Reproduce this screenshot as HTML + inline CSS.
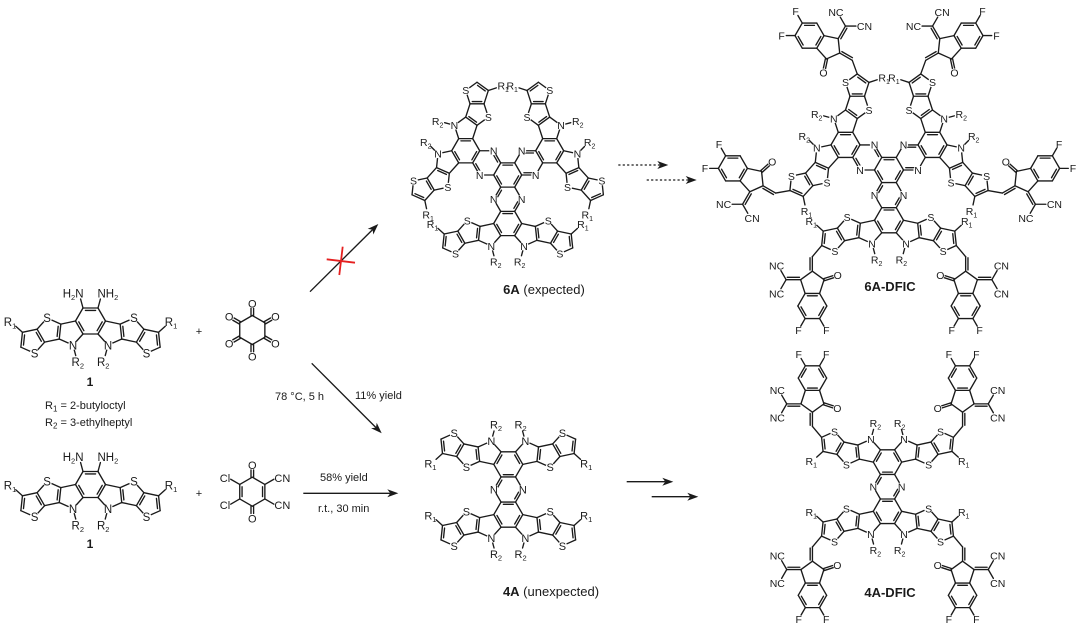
<!DOCTYPE html>
<html><head><meta charset="utf-8"><title>scheme</title>
<style>
html,body{margin:0;padding:0;background:#fff;width:1080px;height:630px;overflow:hidden}
svg{display:block;font-family:"Liberation Sans",Arial,sans-serif;fill:#1a1a1a}
#bonds line{stroke:#1a1a1a;stroke-width:1.35;stroke-linecap:round}
</style></head><body>
<svg id="s" xmlns="http://www.w3.org/2000/svg" width="1080" height="630" viewBox="0 0 1080 630">
<rect width="1080" height="630" fill="#fff"/>
<g id="bonds"></g>
<g id="masks" fill="#fff"></g>

<g stroke="#1a1a1a" stroke-width="1.35" fill="none">
<line x1="310" y1="291.7" x2="372.6" y2="229.6"/>
<line x1="311.7" y1="363.3" x2="376" y2="427.6"/>
<line x1="303.3" y1="493.3" x2="390.3" y2="493.3"/>
<line x1="618.3" y1="165" x2="660.3" y2="165" stroke-dasharray="2.2 2.2"/>
<line x1="646.7" y1="180" x2="688.7" y2="180" stroke-dasharray="2.2 2.2"/>
<line x1="626.7" y1="481.7" x2="665.3" y2="481.7"/>
<line x1="651.7" y1="496.7" x2="690.3" y2="496.7"/>
</g>
<g fill="#1a1a1a">
<polygon points="378.3,224 373.3,234.5 372.6,229.6 367.7,228.9"/>
<polygon points="381.7,433.3 371.1,428.3 376,427.6 376.7,422.7"/>
<polygon points="398.3,493.3 387.3,489.3 390.3,493.3 387.3,497.3"/>
<polygon points="668.3,165 657.3,161 660.3,165 657.3,169"/>
<polygon points="696.7,180 685.7,176 688.7,180 685.7,184"/>
<polygon points="673.3,481.7 662.3,477.7 665.3,481.7 662.3,485.7"/>
<polygon points="698.3,496.7 687.3,492.7 690.3,496.7 687.3,500.7"/>
</g>
<g stroke="#e52020" stroke-width="1.8">
<line x1="326.7" y1="259.3" x2="355" y2="262.7"/>
<line x1="342.7" y1="246.7" x2="339.3" y2="275"/>
</g>

<g font-size="11">
<text x="199" y="335" text-anchor="middle">+</text>
<text x="199" y="497" text-anchor="middle">+</text>
<text x="90" y="386" text-anchor="middle" font-weight="bold" font-size="12">1</text>
<text x="90" y="548" text-anchor="middle" font-weight="bold" font-size="12">1</text>
<text x="45" y="409">R<tspan dy="2.5" font-size="8">1</tspan><tspan dy="-2.5"> = 2-butyloctyl</tspan></text>
<text x="45" y="426">R<tspan dy="2.5" font-size="8">2</tspan><tspan dy="-2.5"> = 3-ethylheptyl</tspan></text>
<text x="275" y="400">78 °C, 5 h</text>
<text x="355" y="399">11% yield</text>
<text x="320" y="481">58% yield</text>
<text x="318" y="512">r.t., 30 min</text>
</g>
<g font-size="13">
<text x="544" y="294" text-anchor="middle"><tspan font-weight="bold">6A</tspan> (expected)</text>
<text x="551" y="596" text-anchor="middle"><tspan font-weight="bold">4A</tspan> (unexpected)</text>
<text x="890" y="291" text-anchor="middle" font-weight="bold">6A-DFIC</text>
<text x="890" y="597" text-anchor="middle" font-weight="bold">4A-DFIC</text>
</g>

<g id="hexk" font-size="11"><text>O</text><text>O</text><text>O</text><text>O</text><text>O</text><text>O</text></g>
<g id="ddq" font-size="11"><text>O</text><text>CN</text><text>CN</text><text>O</text><text>Cl</text><text>Cl</text></g>

<g id="u1a" font-size="11.5">
<text>N</text><text>S</text><text>S</text><text>R<tspan dy="2.5" font-size="7.5">2</tspan></text><text>R<tspan dy="2.5" font-size="7.5">1</tspan></text><text>H<tspan dy="2.5" font-size="7.5">2</tspan><tspan dy="-2.5">N</tspan></text>
<text>N</text><text>S</text><text>S</text><text>R<tspan dy="2.5" font-size="7.5">2</tspan></text><text>R<tspan dy="2.5" font-size="7.5">1</tspan></text><text>NH<tspan dy="2.5" font-size="7.5">2</tspan></text>
</g>
<g id="u1b" font-size="11.5">
<text>N</text><text>S</text><text>S</text><text>R<tspan dy="2.5" font-size="7.5">2</tspan></text><text>R<tspan dy="2.5" font-size="7.5">1</tspan></text><text>H<tspan dy="2.5" font-size="7.5">2</tspan><tspan dy="-2.5">N</tspan></text>
<text>N</text><text>S</text><text>S</text><text>R<tspan dy="2.5" font-size="7.5">2</tspan></text><text>R<tspan dy="2.5" font-size="7.5">1</tspan></text><text>NH<tspan dy="2.5" font-size="7.5">2</tspan></text>
</g>

<g id="u4b" font-size="11">
<text>N</text><text>S</text><text>S</text><text>R<tspan dy="2.5" font-size="7.5">2</tspan></text><text>R<tspan dy="2.5" font-size="7.5">1</tspan></text><text>N</text>
<text>N</text><text>S</text><text>S</text><text>R<tspan dy="2.5" font-size="7.5">2</tspan></text><text>R<tspan dy="2.5" font-size="7.5">1</tspan></text><text>N</text>
</g>
<g id="u4t" font-size="11">
<text>N</text><text>S</text><text>S</text><text>R<tspan dy="2.5" font-size="7.5">2</tspan></text><text>R<tspan dy="2.5" font-size="7.5">1</tspan></text>
<text>N</text><text>S</text><text>S</text><text>R<tspan dy="2.5" font-size="7.5">2</tspan></text><text>R<tspan dy="2.5" font-size="7.5">1</tspan></text>
</g>

<g id="u6_0" font-size="10.5">
<text>N</text><text>S</text><text>S</text><text>R<tspan dy="2.5" font-size="7">2</tspan></text><text>R<tspan dy="2.5" font-size="7">1</tspan></text><text>N</text>
<text>N</text><text>S</text><text>S</text><text>R<tspan dy="2.5" font-size="7">2</tspan></text><text>R<tspan dy="2.5" font-size="7">1</tspan></text><text>N</text>
</g>
<g id="u6_1" font-size="10.5">
<text>N</text><text>S</text><text>S</text><text>R<tspan dy="2.5" font-size="7">2</tspan></text><text>R<tspan dy="2.5" font-size="7">1</tspan></text><text>N</text>
<text>N</text><text>S</text><text>S</text><text>R<tspan dy="2.5" font-size="7">2</tspan></text><text>R<tspan dy="2.5" font-size="7">1</tspan></text><text>N</text>
</g>
<g id="u6_2" font-size="10.5">
<text>N</text><text>S</text><text>S</text><text>R<tspan dy="2.5" font-size="7">2</tspan></text><text>R<tspan dy="2.5" font-size="7">1</tspan></text><text>N</text>
<text>N</text><text>S</text><text>S</text><text>R<tspan dy="2.5" font-size="7">2</tspan></text><text>R<tspan dy="2.5" font-size="7">1</tspan></text><text>N</text>
</g>

<g id="ud4b" font-size="10.5">
<text>N</text><text>S</text><text>S</text><text>R<tspan dy="2.5" font-size="7">2</tspan></text><text>R<tspan dy="2.5" font-size="7">1</tspan></text><text>N</text><text>O</text><text>NC</text><text>NC</text><text>F</text><text>F</text>
<text>N</text><text>S</text><text>S</text><text>R<tspan dy="2.5" font-size="7">2</tspan></text><text>R<tspan dy="2.5" font-size="7">1</tspan></text><text>N</text><text>O</text><text>CN</text><text>CN</text><text>F</text><text>F</text>
</g>
<g id="ud4t" font-size="10.5">
<text>N</text><text>S</text><text>S</text><text>R<tspan dy="2.5" font-size="7">2</tspan></text><text>R<tspan dy="2.5" font-size="7">1</tspan></text><text>O</text><text>CN</text><text>CN</text><text>F</text><text>F</text>
<text>N</text><text>S</text><text>S</text><text>R<tspan dy="2.5" font-size="7">2</tspan></text><text>R<tspan dy="2.5" font-size="7">1</tspan></text><text>O</text><text>NC</text><text>NC</text><text>F</text><text>F</text>
</g>

<g id="ud6_0" font-size="10.5">
<text>N</text><text>S</text><text>S</text><text>R<tspan dy="2.5" font-size="7">2</tspan></text><text>R<tspan dy="2.5" font-size="7">1</tspan></text><text>N</text><text>O</text><text>NC</text><text>NC</text><text>F</text><text>F</text>
<text>N</text><text>S</text><text>S</text><text>R<tspan dy="2.5" font-size="7">2</tspan></text><text>R<tspan dy="2.5" font-size="7">1</tspan></text><text>N</text><text>O</text><text>CN</text><text>CN</text><text>F</text><text>F</text>
</g>
<g id="ud6_1" font-size="10.5">
<text>N</text><text>S</text><text>S</text><text>R<tspan dy="2.5" font-size="7">2</tspan></text><text>R<tspan dy="2.5" font-size="7">1</tspan></text><text>N</text><text>O</text><text>CN</text><text>NC</text><text>F</text><text>F</text>
<text>N</text><text>S</text><text>S</text><text>R<tspan dy="2.5" font-size="7">2</tspan></text><text>R<tspan dy="2.5" font-size="7">1</tspan></text><text>N</text><text>O</text><text>CN</text><text>NC</text><text>F</text><text>F</text>
</g>
<g id="ud6_2" font-size="10.5">
<text>N</text><text>S</text><text>S</text><text>R<tspan dy="2.5" font-size="7">2</tspan></text><text>R<tspan dy="2.5" font-size="7">1</tspan></text><text>N</text><text>O</text><text>NC</text><text>CN</text><text>F</text><text>F</text>
<text>N</text><text>S</text><text>S</text><text>R<tspan dy="2.5" font-size="7">2</tspan></text><text>R<tspan dy="2.5" font-size="7">1</tspan></text><text>N</text><text>O</text><text>NC</text><text>CN</text><text>F</text><text>F</text>
</g>
</svg>
<script>
(function(){
var NS='http://www.w3.org/2000/svg';
var BG=document.getElementById('bonds'),MG=document.getElementById('masks');
function add(a,b){return[a[0]+b[0],a[1]+b[1]];}
function sub(a,b){return[a[0]-b[0],a[1]-b[1]];}
function mul(a,k){return[a[0]*k,a[1]*k];}
function nrm(a){var l=Math.hypot(a[0],a[1]);return[a[0]/l,a[1]/l];}
function ln(a,b){var e=document.createElementNS(NS,'line');e.setAttribute('x1',a[0].toFixed(2));e.setAttribute('y1',a[1].toFixed(2));e.setAttribute('x2',b[0].toFixed(2));e.setAttribute('y2',b[1].toFixed(2));BG.appendChild(e);}
function mask(p,r){var e=document.createElementNS(NS,'circle');e.setAttribute('cx',p[0].toFixed(2));e.setAttribute('cy',p[1].toFixed(2));e.setAttribute('r',r.toFixed(2));MG.appendChild(e);}
function offLine(a,b,c,off,fr){var d=sub(b,a),len=Math.hypot(d[0],d[1]),u=mul(d,1/len);var n=[-u[1],u[0]];var m=mul(add(a,b),.5);if((c[0]-m[0])*n[0]+(c[1]-m[1])*n[1]<0)n=mul(n,-1);var s=len*fr;ln(add(add(a,mul(u,s)),mul(n,off)),add(sub(b,mul(u,s)),mul(n,off)));}
function inner(a,b,c,off){offLine(a,b,c,off,.16);}
function parTo(a,b,c,off){offLine(a,b,c,off,.08);}
function sym(a,b,g){var u=nrm(sub(b,a)),n=[-u[1]*g/2,u[0]*g/2];ln(add(a,n),add(b,n));ln(sub(a,n),sub(b,n));}
function place(el,p,an,fs){el.setAttribute('x',p[0].toFixed(1));el.setAttribute('y',(p[1]+.36*fs).toFixed(1));el.setAttribute('text-anchor',an);}
function lab(a,d,s0,s1,el,fs){var e=add(a,mul(d,s1));ln(add(a,mul(d,s0)),e);var w=el.getComputedTextLength();place(el,[e[0]+d[0]*(w/2+1.5),e[1]+d[1]*(fs*.45+1.5)],'middle',fs);}
var Bz=[[1,0],[.5,.866],[-.5,.866],[-1,0],[-.5,-.866],[.5,-.866]];

function unit(id,cx,cy,L,thd,o){
  var g=document.getElementById(id);var T=g.querySelectorAll('text');var k=0;
  var fs=parseFloat(g.getAttribute('font-size'));
  var th=thd*Math.PI/180,c=Math.cos(th),s=Math.sin(th);
  function G(p){return[cx+L*(p[0]*c-p[1]*s),cy+L*(p[0]*s+p[1]*c)];}
  function Rd(d){return[d[0]*c-d[1]*s,d[0]*s+d[1]*c];}
  var off=.16*L,mr=.32*L;
  for(var i=0;i<6;i++)ln(G(Bz[i]),G(Bz[(i+1)%6]));
  inner(G(Bz[4]),G(Bz[5]),G([0,0]),off);
  [1,-1].forEach(function(sd){
    function P(p){return G([p[0]*sd,p[1]]);}
    function D(d){var n=nrm(d);return Rd([n[0]*sd,n[1]]);}
    function b(a,q){ln(P(a),P(q));}
    var N=[-1.169,1.609],Cb=[-1.978,.208],Ca=[-2.083,1.202],S1=[-2.891,-.199],X=[-3.56,.544],Y=[-3.06,1.41],Z=[-4.538,.752],W=[-4.643,1.746],V=[-3.729,2.153];
    var th1=[-2.714,.633],th2=[-3.906,1.321];
    b([-1,0],Cb);b(Cb,Ca);b(Ca,N);b(N,[-.5,.866]);b(Cb,S1);b(S1,X);b(X,Y);b(Y,Ca);b(X,Z);b(Z,W);b(W,V);b(V,Y);
    inner(P([-1,0]),P([-.5,.866]),G([0,0]),off);
    inner(P(Cb),P(Ca),P(th1),off);
    inner(P(X),P(Y),P(th2),off);
    inner(P(Z),P(W),P(th2),off);
    [N,S1,V].forEach(function(a){var q=P(a);mask(q,mr);place(T[k++],q,'middle',fs);});
    lab(P(N),D([.26,.97]),.32*L,.72*L,T[k++],fs);
    lab(P(Z),D([-.743,-.669]),0,.6*L,T[k++],fs);
    if(o.nh2){
      var a=P([-.5,-.866]),d=D([-.26,-.97]);
      ln(a,add(a,mul(d,.62*L)));
      var np=add(a,mul(d,L));
      place(T[k++],[np[0]+(sd>0?.38*fs:-.38*fs),np[1]],sd>0?'end':'start',fs);
    }
    if(o.pyr){
      var PN=[-1,-1.732],PC=[-.5,-2.598];
      b([-.5,-.866],PN);b(PN,PC);
      if(sd>0)inner(P(PN),P(PC),G([0,-1.732]),off);else inner(P([-.5,-.866]),P(PN),G([0,-1.732]),off);
      var q=P(PN);mask(q,mr);place(T[k++],q,'middle',fs);
    }
    if(o.ic){
      var C2=[-5.286,3.512],CH=[-5.286,2.512];
      function A(v){return[C2[0]+v[0],C2[1]+v[1]];}
      var C1=A([-.809,.588]),C3=A([.809,.588]),C3a=A([.5,1.539]),C7a=A([-.5,1.539]),C4=A([1,2.405]),C5=A([.5,3.271]),C6=A([-.5,3.271]),C7=A([-1,2.405]),bcn=A([0,2.405]),Cx=A([-1.809,.588]);
      b(W,CH);b(CH,C2);parTo(P(CH),P(C2),P(Cx),off);
      b(C2,C1);b(C2,C3);b(C3,C3a);b(C3a,C7a);b(C7a,C1);
      b(C3a,C4);b(C4,C5);b(C5,C6);b(C6,C7);b(C7,C7a);
      inner(P(C4),P(C5),P(bcn),off);inner(P(C6),P(C7),P(bcn),off);inner(P(C7a),P(C3a),P(bcn),off);
      b(C1,Cx);parTo(P(C1),P(Cx),P(C2),off);
      var dO=D([.951,-.309]),c3=P(C3),oe=add(c3,mul(dO,.68*L));
      sym(c3,oe,off*.95);
      var oc=add(oe,mul(dO,.42*fs));mask(oc,.3*L);place(T[k++],oc,'middle',fs);
      var cxp=P(Cx);
      [[-.5,-.866],[-.5,.866]].forEach(function(dv){
        var d=D(dv),e=add(cxp,mul(d,.72*L));ln(cxp,e);
        var el=T[k++],w=el.getComputedTextLength();
        place(el,[e[0]+d[0]*(w/2+1),e[1]+d[1]*(fs*.45+1)],'middle',fs);
      });
      [[C5,[.5,.866]],[C6,[-.5,.866]]].forEach(function(pr){
        var a=P(pr[0]),d=D(pr[1]),e=add(a,mul(d,.6*L));ln(a,e);
        place(T[k++],add(e,mul(d,.45*fs)),'middle',fs);
      });
    }
  });
}
function core(cx,cy,L){
  function G(p){return[cx+L*p[0],cy+L*p[1]];}
  for(var i=0;i<6;i++)ln(G(Bz[i]),G(Bz[(i+1)%6]));
  inner(G(Bz[0]),G(Bz[1]),[cx,cy],.16*L);
  inner(G(Bz[2]),G(Bz[3]),[cx,cy],.16*L);
  inner(G(Bz[4]),G(Bz[5]),[cx,cy],.16*L);
}
function tri(prefix,cx,cy,L,o){
  core(cx,cy,L);
  [0,120,240].forEach(function(t,i){
    var th=t*Math.PI/180,d=3.464*L;
    unit(prefix+i,cx-d*Math.sin(th),cy+d*Math.cos(th),L,t,o);
  });
}
function small(id,cx,cy,R,subs,dbl){
  var g=document.getElementById(id),T=g.querySelectorAll('text'),k=0,fs=parseFloat(g.getAttribute('font-size'));
  var ang=[-90,-30,30,90,150,210].map(function(a){return a*Math.PI/180;});
  var V=ang.map(function(a){return[cx+R*Math.cos(a),cy+R*Math.sin(a)];});
  for(var i=0;i<6;i++)ln(V[i],V[(i+1)%6]);
  dbl.forEach(function(p){inner(V[p[0]],V[p[1]],[cx,cy],.16*R);});
  subs.forEach(function(t,i){
    var d=[Math.cos(ang[i]),Math.sin(ang[i])],v=V[i];
    if(t==='O'){var e=add(v,mul(d,.5*R));sym(v,e,2.6);place(T[k++],add(e,mul(d,.45*fs)),'middle',fs);}
    else if(t==='Cl'){var e2=add(v,mul(d,.72*R));ln(v,e2);place(T[k++],[e2[0]-.5,e2[1]+d[1]*2],'end',fs);}
    else{var e3=add(v,mul(d,.72*R));ln(v,e3);place(T[k++],[e3[0]+.5,e3[1]+d[1]*2],'start',fs);}
  });
}
small('hexk',252.3,330,14.5,['O','O','O','O','O','O'],[]);
small('ddq',252.3,491.7,14.5,['O','CN','CN','O','Cl','Cl'],[[1,2],[4,5]]);
unit('u1a',90.5,321,15,0,{nh2:1});
unit('u1b',90.5,484.5,15,0,{nh2:1});
unit('u4b',508.3,514.6,14.5,0,{pyr:1});
unit('u4t',508.3,464.4,14.5,180,{});
tri('u6_',507.7,175,14,{pyr:1});
unit('ud4b',887.5,511.3,14.2,0,{pyr:1,ic:1});
unit('ud4t',887.5,462.1,14.2,180,{ic:1});
tri('ud6_',889,170,14.5,{pyr:1,ic:1});
})();
</script>
</body></html>
